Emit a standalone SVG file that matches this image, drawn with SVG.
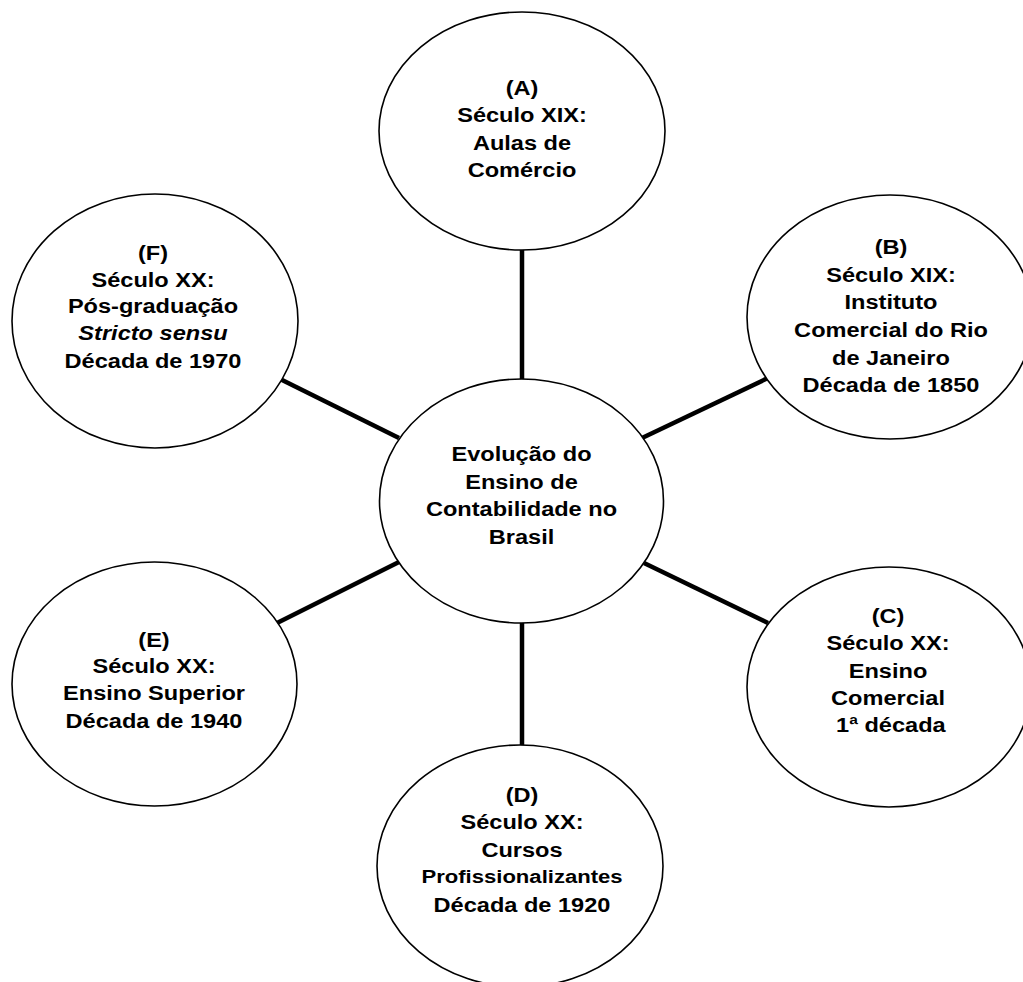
<svg xmlns="http://www.w3.org/2000/svg" width="1023" height="982" viewBox="0 0 1023 982">
<style>
.node{fill:#fff;stroke:#000;stroke-width:1.6}
.lbl{font-family:"Liberation Sans",Arial,sans-serif;font-weight:bold;font-size:20.5px;fill:#000;text-anchor:middle}
.sm{font-size:19.2px}
.it{font-style:italic}
.conn line{stroke:#000;stroke-width:4.5}
</style>
<rect width="1023" height="982" fill="#fff"/>
<g id="connectors" class="conn">
<line x1="522" y1="249" x2="522" y2="380"/>
<line x1="522" y1="622" x2="522" y2="746"/>
<line x1="276" y1="377" x2="399" y2="438"/>
<line x1="642" y1="438" x2="768" y2="378"/>
<line x1="644" y1="563" x2="768" y2="623"/>
<line x1="277" y1="623" x2="399" y2="562"/>
</g>
<g id="center">
<ellipse class="node" cx="521.5" cy="501" rx="142" ry="122"/>
<g class="lbl" transform="translate(521.5,0) scale(1.15,1)">
<text x="0" y="461">Evolução do</text>
<text x="0" y="489">Ensino de</text>
<text x="0" y="516.5">Contabilidade no</text>
<text x="0" y="544">Brasil</text>
</g>
</g>
<g id="nodeA">
<ellipse class="node" cx="522" cy="131" rx="143" ry="119"/>
<g class="lbl" transform="translate(522,0) scale(1.15,1)">
<text x="0" y="95">(A)</text>
<text x="0" y="122.5">Século XIX:</text>
<text x="0" y="150">Aulas de</text>
<text x="0" y="177.5">Comércio</text>
</g>
</g>
<g id="nodeB">
<ellipse class="node" cx="890" cy="317" rx="143" ry="122"/>
<g class="lbl" transform="translate(891,0) scale(1.15,1)">
<text x="0" y="254">(B)</text>
<text x="0" y="281.7">Século XIX:</text>
<text x="0" y="309.4">Instituto</text>
<text x="0" y="337">Comercial do Rio</text>
<text x="0" y="364.7">de Janeiro</text>
<text x="0" y="392.4">Década de 1850</text>
</g>
</g>
<g id="nodeC">
<ellipse class="node" cx="889" cy="687" rx="142" ry="120"/>
<g class="lbl" transform="translate(888,0) scale(1.15,1)">
<text x="0" y="623.3">(C)</text>
<text x="0" y="650.5">Século XX:</text>
<text x="0" y="677.7">Ensino</text>
<text x="0" y="705">Comercial</text>
<text x="2.5" y="731.7">1ª década</text>
</g>
</g>
<g id="nodeD">
<ellipse class="node" cx="520" cy="866" rx="143" ry="121"/>
<g class="lbl" transform="translate(522,0) scale(1.15,1)">
<text x="0" y="801.7">(D)</text>
<text x="0" y="829.5">Século XX:</text>
<text x="0" y="856.7">Cursos</text>
<text class="sm" x="0" y="883.5">Profissionalizantes</text>
<text x="0" y="911.7">Década de 1920</text>
</g>
</g>
<g id="nodeE">
<ellipse class="node" cx="154.5" cy="684" rx="142.5" ry="122"/>
<g class="lbl" transform="translate(154,0) scale(1.15,1)">
<text x="0" y="646.7">(E)</text>
<text x="0" y="673.5">Século XX:</text>
<text x="0" y="700.5">Ensino Superior</text>
<text x="0" y="728.3">Década de 1940</text>
</g>
</g>
<g id="nodeF">
<ellipse class="node" cx="155" cy="321" rx="143" ry="127"/>
<g class="lbl" transform="translate(153,0) scale(1.15,1)">
<text x="0" y="260">(F)</text>
<text x="0" y="286.7">Século XX:</text>
<text x="0" y="313.5">Pós-graduação</text>
<text class="it" x="0" y="340.5">Stricto sensu</text>
<text x="0" y="368">Década de 1970</text>
</g>
</g>
</svg>
